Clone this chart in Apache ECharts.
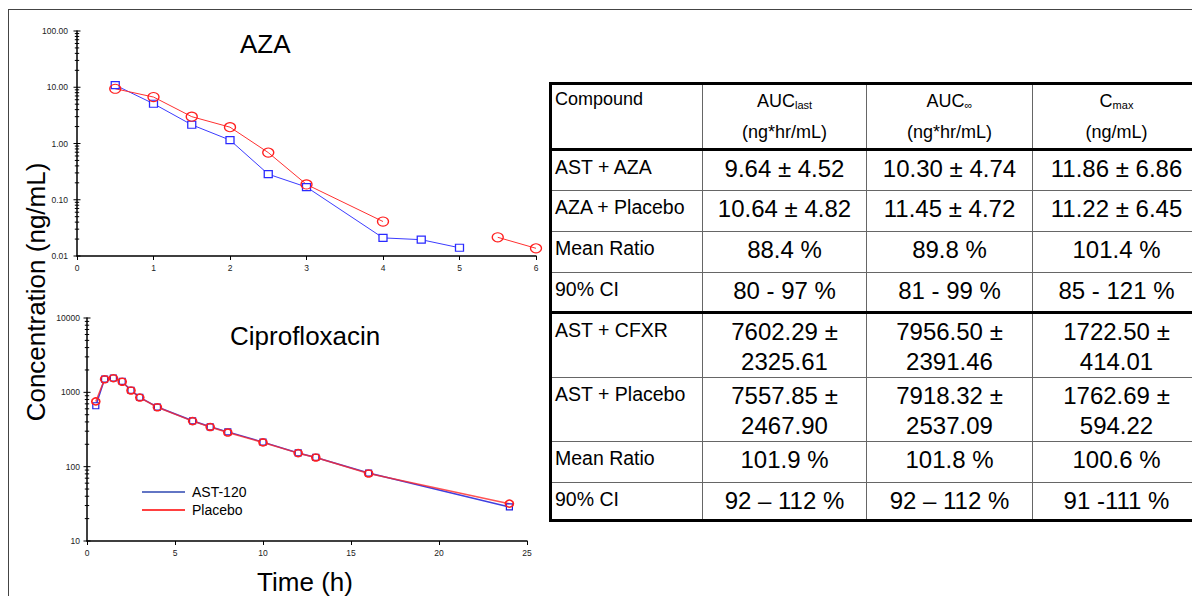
<!DOCTYPE html>
<html>
<head>
<meta charset="utf-8">
<script src="https://cdn.jsdelivr.net/npm/echarts@6/dist/echarts.min.js"></script>
<style>
html, body { margin: 0; padding: 0; background: #fff; overflow: hidden; }
#wrap { position: relative; width: 1192px; height: 596px; overflow: hidden; font-family: 'Liberation Sans', Arial, sans-serif; }
#chart { position: absolute; left: 0; top: 0; width: 1192px; height: 596px; }
#frame { position: absolute; left: 8px; top: 9px; width: 1200px; height: 600px; border-top: 1px solid #444; border-left: 1px solid #444; }
table.pk { position: absolute; left: 549px; top: 82px; width: 651px; border-collapse: collapse; table-layout: fixed; border: 3px solid #000; color: #000; }
table.pk td { border: 1px solid #666; padding: 3px 0 0 0; vertical-align: top; text-align: center; font-size: 24px; line-height: 30px; }
table.pk td.name { text-align: left; font-size: 19.5px; line-height: 24px; padding: 4px 0 0 3px; }
table.pk tr.head td { font-size: 18px; line-height: 31px; padding-top: 1px; }
table.pk tr.head td.name { line-height: 24px; padding-top: 2px; }
table.pk tr.sep td { border-bottom: 3px solid #000; }
table.pk sub { font-size: 11px; vertical-align: -2px; line-height: 0; }
</style>
</head>
<body>
<div id="wrap">
  <div id="frame"></div>
  <div id="chart"></div>
  <table class="pk">
    <colgroup><col style="width:152px"><col style="width:164px"><col style="width:166px"><col style="width:169px"></colgroup>
    <tr class="head sep" style="height:61px">
      <td class="name">Compound</td>
      <td>AUC<sub>last</sub><br>(ng*hr/mL)</td>
      <td>AUC<sub>∞</sub><br>(ng*hr/mL)</td>
      <td>C<sub>max</sub><br>(ng/mL)</td>
    </tr>
    <tr style="height:41px"><td class="name">AST + AZA</td><td>9.64 ± 4.52</td><td>10.30 ± 4.74</td><td>11.86 ± 6.86</td></tr>
    <tr style="height:41px"><td class="name">AZA + Placebo</td><td>10.64 ± 4.82</td><td>11.45 ± 4.72</td><td>11.22 ± 6.45</td></tr>
    <tr style="height:41px"><td class="name">Mean Ratio</td><td>88.4 %</td><td>89.8 %</td><td>101.4 %</td></tr>
    <tr class="sep" style="height:40px"><td class="name">90% CI</td><td>80 - 97 %</td><td>81 - 99 %</td><td>85 - 121 %</td></tr>
    <tr style="height:62px"><td class="name">AST + CFXR</td><td>7602.29 ±<br>2325.61</td><td>7956.50 ±<br>2391.46</td><td>1722.50 ±<br>414.01</td></tr>
    <tr style="height:62px"><td class="name">AST + Placebo</td><td>7557.85 ±<br>2467.90</td><td>7918.32 ±<br>2537.09</td><td>1762.69 ±<br>594.22</td></tr>
    <tr style="height:41px"><td class="name">Mean Ratio</td><td>101.9 %</td><td>101.8 %</td><td>100.6 %</td></tr>
    <tr class="sep" style="height:38px"><td class="name">90% CI</td><td>92 – 112 %</td><td>92 – 112 %</td><td>91 -111 %</td></tr>
  </table>
</div>
<script>
// AZA plasma concentration (ng/mL) vs time (h)
const azaTime = [0.5, 1, 1.5, 2, 2.5, 3, 4, 4.5, 5];
const azaAst = [10.9, 5.1, 2.15, 1.15, 0.285, 0.168, 0.021, 0.0195, 0.014];
const azaPlaceboTime = [0.5, 1, 1.5, 2, 2.5, 3, 4, 5, 5.5, 6];
const azaPlacebo = [9.4, 6.7, 3.0, 1.95, 0.69, 0.187, 0.041, null, 0.0215, 0.0137];

// Ciprofloxacin plasma concentration (ng/mL) vs time (h)
const ciproTime = [0.5, 1, 1.5, 2, 2.5, 3, 4, 6, 7, 8, 10, 12, 13, 16, 24];
const ciproAst = [660, 1510, 1560, 1400, 1060, 855, 634, 414, 344, 294, 214, 153, 133, 82, 28.7];
const ciproPlacebo = [755, 1500, 1550, 1390, 1060, 850, 630, 410, 342, 288, 212, 152, 133, 81, 31.8];

const azaDecades = [0.01, 0.1, 1, 10, 100];
const ciproDecades = [10, 100, 1000, 10000];

const font = "'Liberation Sans', Arial, sans-serif";

function pairs(xs, ys) {
  return xs.map((x, i) => [x, ys[i] == null ? '-' : ys[i]]);
}

// major + minor log ticks, drawn across the axis line
function logTicks(decades, xAt) {
  const out = [];
  decades.forEach((v, i) => {
    out.push([xAt, v, 3.5]);
    if (i < decades.length - 1) {
      for (let m = 2; m <= 9; m++) out.push([xAt, v * m, 2.2]);
    }
  });
  return out;
}

function tickItem(params, api) {
  const p = api.coord([api.value(0), api.value(1)]);
  const h = api.value(2);
  return {
    type: 'line',
    shape: { x1: p[0] - h, y1: p[1], x2: p[0] + h, y2: p[1] },
    style: { stroke: '#000', lineWidth: 1 }
  };
}

const axisLine = { lineStyle: { color: '#000', width: 1.5 } };
const smallLabel = { fontSize: 8.5, color: '#222', fontFamily: font };

const myChart = echarts.init(document.getElementById('chart'), null, { renderer: 'svg' });

myChart.setOption({
  animation: false,
  title: [
    { text: 'AZA', left: 240, top: 31, padding: 0, textStyle: { fontSize: 26, fontWeight: 'normal', color: '#000', fontFamily: font } },
    { text: 'Ciprofloxacin', left: 230, top: 323, padding: 0, textStyle: { fontSize: 26, fontWeight: 'normal', color: '#000', fontFamily: font } }
  ],
  legend: {
    orient: 'vertical',
    left: 137,
    top: 480,
    icon: 'rect',
    itemWidth: 43,
    itemHeight: 1.5,
    itemGap: 4,
    selectedMode: false,
    textStyle: { fontSize: 14, color: '#000', fontFamily: font, padding: [0, 0, 0, 2], lineHeight: 14 },
    data: [
      { name: 'AST-120', itemStyle: { color: '#2e47b0', borderWidth: 0 } },
      { name: 'Placebo', itemStyle: { color: '#ff0000', borderWidth: 0 } }
    ]
  },
  grid: [
    { left: 77, top: 31, width: 459, height: 225 },
    { left: 87, top: 318, width: 440, height: 223 }
  ],
  xAxis: [
    {
      type: 'value', gridIndex: 0, min: 0, max: 6, interval: 1,
      axisLine, axisTick: { length: 4, lineStyle: { color: '#000' } },
      splitLine: { show: false }, axisLabel: { ...smallLabel, margin: 7 }
    },
    {
      type: 'value', gridIndex: 1, min: 0, max: 25, interval: 5,
      axisLine, axisTick: { length: 4, lineStyle: { color: '#000' } },
      splitLine: { show: false }, axisLabel: { ...smallLabel, margin: 7 }
    }
  ],
  yAxis: [
    {
      type: 'log', gridIndex: 0, logBase: 10, min: 0.01, max: 100,
      axisLine, axisTick: { show: false }, splitLine: { show: false },
      axisLabel: { ...smallLabel, margin: 9, formatter: (v) => v.toFixed(2) }
    },
    {
      type: 'log', gridIndex: 1, logBase: 10, min: 10, max: 10000,
      axisLine, axisTick: { show: false }, splitLine: { show: false },
      axisLabel: { ...smallLabel, margin: 7, formatter: (v) => String(Math.round(v)) }
    }
  ],
  graphic: [
    {
      type: 'text', x: 36, y: 292, rotation: Math.PI / 2,
      style: { text: 'Concentration (ng/mL)', font: '26px ' + font, fill: '#000', align: 'center', verticalAlign: 'middle' }
    },
    {
      type: 'text', x: 305, y: 582,
      style: { text: 'Time (h)', font: '26px ' + font, fill: '#000', align: 'center', verticalAlign: 'middle' }
    }
  ],
  series: [
    {
      name: 'AST + AZA', type: 'line', xAxisIndex: 0, yAxisIndex: 0,
      data: pairs(azaTime, azaAst),
      symbol: 'rect', symbolSize: [8, 7],
      lineStyle: { color: '#3b3bff', width: 1 },
      itemStyle: { color: '#fff', borderColor: '#2a2aff', borderWidth: 1.2 }
    },
    {
      name: 'AZA + Placebo', type: 'line', xAxisIndex: 0, yAxisIndex: 0,
      data: pairs(azaPlaceboTime, azaPlacebo),
      symbol: 'circle', symbolSize: [11, 9],
      lineStyle: { color: '#ff3030', width: 1 },
      itemStyle: { color: 'rgba(255,255,255,0)', borderColor: '#ff1f1f', borderWidth: 1.2 }
    },
    {
      name: 'AST-120', type: 'line', xAxisIndex: 1, yAxisIndex: 1,
      data: pairs(ciproTime, ciproAst),
      symbol: 'rect', symbolSize: [6, 6],
      lineStyle: { color: '#4040e0', width: 1.5 },
      itemStyle: { color: '#fff', borderColor: '#2020e0', borderWidth: 1.2 }
    },
    {
      name: 'Placebo', type: 'line', xAxisIndex: 1, yAxisIndex: 1,
      data: pairs(ciproTime, ciproPlacebo),
      symbol: 'circle', symbolSize: [8, 7],
      lineStyle: { color: 'rgba(255,40,40,0.8)', width: 1.5 },
      itemStyle: { color: 'rgba(255,255,255,0)', borderColor: '#ff1f1f', borderWidth: 1.6 }
    },
    {
      type: 'custom', xAxisIndex: 0, yAxisIndex: 0, silent: true, clip: false, z: 5,
      encode: { x: 0, y: 1 },
      data: logTicks(azaDecades, 0),
      renderItem: tickItem
    },
    {
      type: 'custom', xAxisIndex: 1, yAxisIndex: 1, silent: true, clip: false, z: 5,
      encode: { x: 0, y: 1 },
      data: logTicks(ciproDecades, 0),
      renderItem: tickItem
    }
  ]
});
</script>
</body>
</html>
